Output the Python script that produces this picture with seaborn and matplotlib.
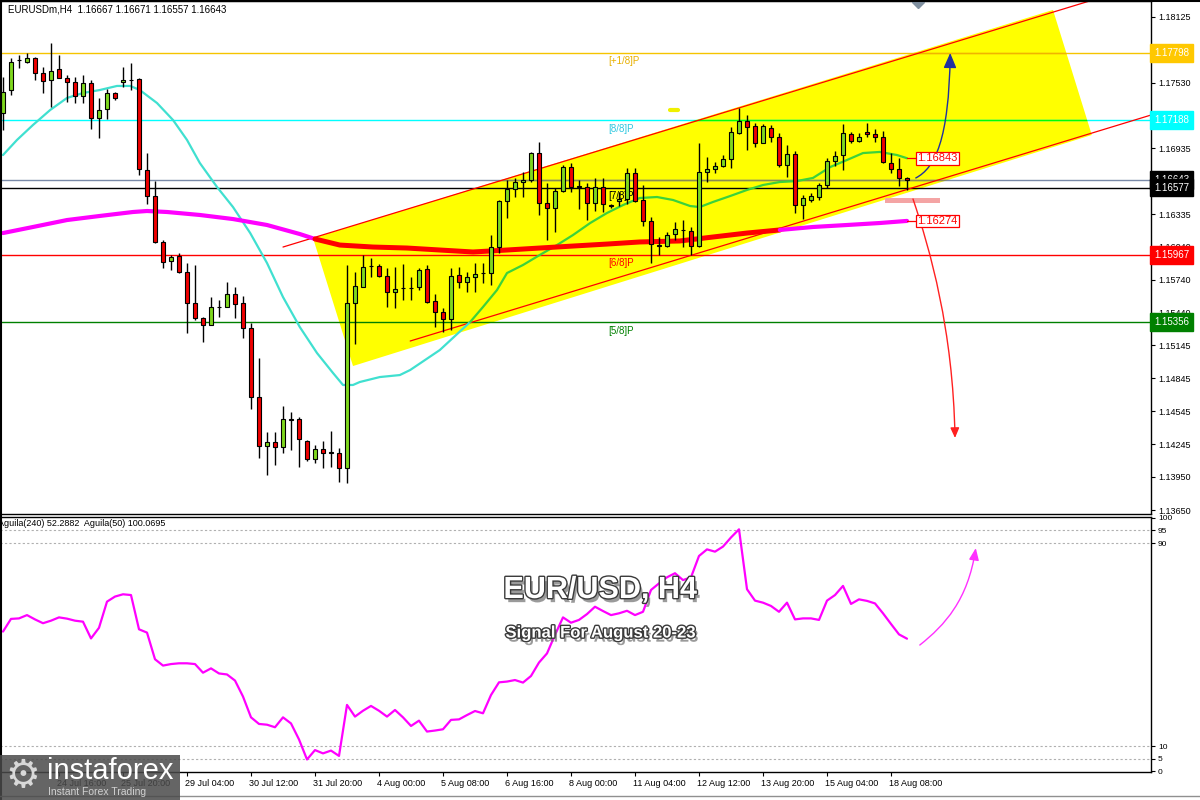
import numpy as np
import pandas as pd
import matplotlib
matplotlib.use("Agg")
import matplotlib.pyplot as plt
import matplotlib.patheffects as pe
import matplotlib.transforms as mtransforms
from matplotlib.patches import Polygon, FancyArrowPatch, Rectangle
from matplotlib.path import Path
from matplotlib.lines import Line2D
import seaborn as sns

# EURUSD H4 candles (oldest first)
opens = [
    1.17251, 1.17462, 1.17735, 1.17720, 1.17750, 1.17614, 1.17553, 1.17650, 1.17574, 1.17538,
    1.17411, 1.17523, 1.17205, 1.17287, 1.17432, 1.17532, 1.17553, 1.17559, 1.16736, 1.16503,
    1.16080, 1.15910, 1.15956, 1.15813, 1.15532, 1.15390, 1.15329, 1.15490, 1.15490, 1.15608,
    1.15526, 1.15299, 1.14673, 1.14231, 1.14264, 1.14219, 1.14473, 1.14473, 1.14279, 1.14110,
    1.14201, 1.14170, 1.14170, 1.14028, 1.15526, 1.15678, 1.15865, 1.15868, 1.15777, 1.15626,
    1.15662, 1.15662, 1.15672, 1.15835, 1.15548, 1.15445, 1.15381, 1.15783, 1.15717, 1.15768,
    1.15799, 1.15799, 1.16035, 1.16455, 1.16564, 1.16628, 1.16643, 1.16888, 1.16434, 1.16389,
    1.16546, 1.16761, 1.16585, 1.16585, 1.16434, 1.16585, 1.16413, 1.16458, 1.16474, 1.16706,
    1.16464, 1.16277, 1.16053, 1.16050, 1.16153, 1.16192, 1.16186, 1.16046, 1.16715, 1.16742,
    1.16772, 1.16833, 1.17069, 1.17184, 1.17135, 1.16984, 1.17114, 1.17032, 1.16781, 1.16878,
    1.16418, 1.16464, 1.16494, 1.16600, 1.16818, 1.16872, 1.17060, 1.17002, 1.17078, 1.17060,
    1.17032, 1.16802, 1.16742, 1.16667]
highs = [
    1.17583, 1.17750, 1.17780, 1.17795, 1.17765, 1.17674, 1.17886, 1.17780, 1.17599, 1.17583,
    1.17599, 1.17553, 1.17387, 1.17468, 1.17447, 1.17674, 1.17704, 1.17568, 1.16894, 1.16639,
    1.16101, 1.15965, 1.15980, 1.15889, 1.15874, 1.15405, 1.15586, 1.15556, 1.15717, 1.15671,
    1.15596, 1.15344, 1.15027, 1.14361, 1.14361, 1.14594, 1.14543, 1.14491, 1.14285, 1.14240,
    1.14279, 1.14367, 1.14210, 1.15874, 1.15813, 1.15965, 1.15935, 1.15883, 1.15844, 1.15859,
    1.15883, 1.15768, 1.15844, 1.15874, 1.15611, 1.15481, 1.15844, 1.15859, 1.15814, 1.15889,
    1.15889, 1.16147, 1.16464, 1.16646, 1.16661, 1.16722, 1.16903, 1.16988, 1.16616, 1.16570,
    1.16782, 1.16797, 1.16646, 1.16616, 1.16661, 1.16661, 1.16428, 1.16540, 1.16752, 1.16752,
    1.16600, 1.16307, 1.16131, 1.16177, 1.16268, 1.16283, 1.16216, 1.16978, 1.16857, 1.16812,
    1.16872, 1.17123, 1.17296, 1.17235, 1.17159, 1.17150, 1.17144, 1.17069, 1.16963, 1.16911,
    1.16509, 1.16530, 1.16615, 1.16842, 1.16911, 1.17150, 1.17084, 1.17075, 1.17159, 1.17105,
    1.17093, 1.16887, 1.16842, 1.16671]
lows = [
    1.17099, 1.17417, 1.17659, 1.17704, 1.17553, 1.17432, 1.17311, 1.17568, 1.17357, 1.17341,
    1.17341, 1.17105, 1.17024, 1.17196, 1.17372, 1.17487, 1.17462, 1.16691, 1.16428, 1.16071,
    1.15844, 1.15829, 1.15798, 1.15254, 1.15375, 1.15178, 1.15329, 1.15405, 1.15490, 1.15390,
    1.15208, 1.14564, 1.14119, 1.13968, 1.14058, 1.14170, 1.14195, 1.14043, 1.14098, 1.14074,
    1.14028, 1.14043, 1.13907, 1.13892, 1.15154, 1.15670, 1.15768, 1.15768, 1.15496, 1.15481,
    1.15557, 1.15557, 1.15647, 1.15526, 1.15315, 1.15269, 1.15284, 1.15662, 1.15632, 1.15632,
    1.15708, 1.15693, 1.15980, 1.16298, 1.16495, 1.16489, 1.16631, 1.16328, 1.16101, 1.16177,
    1.16540, 1.16540, 1.16380, 1.16283, 1.16367, 1.16358, 1.16389, 1.16410, 1.16428, 1.16449,
    1.16228, 1.15889, 1.15965, 1.16041, 1.16101, 1.16041, 1.15965, 1.16040, 1.16630, 1.16706,
    1.16760, 1.16751, 1.17063, 1.16917, 1.16948, 1.16978, 1.16993, 1.16766, 1.16675, 1.16349,
    1.16288, 1.16448, 1.16464, 1.16569, 1.16772, 1.16736, 1.16978, 1.16993, 1.17038, 1.16993,
    1.16802, 1.16712, 1.16591, 1.16557]
closes = [
    1.17447, 1.17720, 1.17738, 1.17750, 1.17614, 1.17547, 1.17638, 1.17574, 1.17538, 1.17411,
    1.17523, 1.17205, 1.17281, 1.17432, 1.17393, 1.17553, 1.17550, 1.16742, 1.16500, 1.16080,
    1.15904, 1.15950, 1.15813, 1.15532, 1.15390, 1.15329, 1.15490, 1.15496, 1.15608, 1.15520,
    1.15299, 1.14673, 1.14231, 1.14264, 1.14219, 1.14473, 1.14470, 1.14291, 1.14110, 1.14201,
    1.14164, 1.14173, 1.14028, 1.15532, 1.15683, 1.15859, 1.15868, 1.15777, 1.15626, 1.15653,
    1.15662, 1.15662, 1.15829, 1.15535, 1.15451, 1.15381, 1.15777, 1.15717, 1.15768, 1.15790,
    1.15799, 1.16035, 1.16455, 1.16564, 1.16628, 1.16643, 1.16888, 1.16434, 1.16389, 1.16546,
    1.16761, 1.16585, 1.16588, 1.16434, 1.16585, 1.16428, 1.16416, 1.16474, 1.16706, 1.16458,
    1.16277, 1.16065, 1.16050, 1.16147, 1.16198, 1.16192, 1.16050, 1.16721, 1.16742, 1.16772,
    1.16833, 1.17078, 1.17184, 1.17129, 1.16984, 1.17135, 1.17032, 1.16781, 1.16881, 1.16418,
    1.16479, 1.16500, 1.16600, 1.16818, 1.16866, 1.17069, 1.17002, 1.17038, 1.17060, 1.17032,
    1.16811, 1.16742, 1.16660, 1.16643]

# fast moving average (cyan, later green)
ma_fast_idx = [0, 1.75, 3.75, 5.9, 8, 10, 12.1, 14.25, 15.9, 17.1,
               19.25, 21.25, 23, 24.6, 26.75, 28.75, 30.9, 33, 35, 37.1,
               39.25, 41.25, 42.5, 43.75, 44.6, 47.1, 49.6, 50.9, 54.6, 58.4,
               60, 61.75, 63, 65, 67.1, 69.25, 71.25, 73.4, 75.5, 77.5,
               79.6, 81.75, 83.75, 85.9, 87.1, 88.75, 90.9, 93, 95, 97.1,
               99.25, 101.25, 103.4, 105.5, 107.5, 109.6, 111.75, 113]
ma_fast_val = [1.16872, 1.17009, 1.17145, 1.17281, 1.17390, 1.17435, 1.17462, 1.17499, 1.17499, 1.17462,
               1.17344, 1.17190, 1.17009, 1.16800, 1.16582, 1.16400, 1.16164, 1.15892, 1.15583, 1.15311,
               1.15075, 1.14894, 1.14785, 1.14785, 1.14812, 1.14857, 1.14875, 1.14921, 1.15102, 1.15357,
               1.15493, 1.15647, 1.15801, 1.15874, 1.15965, 1.16055, 1.16146, 1.16255, 1.16346, 1.16418,
               1.16482, 1.16491, 1.16464, 1.16409, 1.16400, 1.16446, 1.16500, 1.16555, 1.16600, 1.16627,
               1.16636, 1.16664, 1.16763, 1.16827, 1.16890, 1.16900, 1.16872, 1.16843]
ma_fast_switch = 29

# slow moving average (magenta, red in the middle)
ma_slow_idx = [0, 3.75, 8, 12.1, 16.25, 18, 20.5, 24.6, 28.75, 33,
               37.1, 39, 42.1, 46.25, 50.5, 54.6, 58.75, 63, 67.1, 71.25,
               75.5, 79.6, 84.6, 88.75, 93, 97.1, 101.25, 105.5, 109.6, 113]
ma_slow_val = [1.16164, 1.16219, 1.16282, 1.16319, 1.16355, 1.16364, 1.16355, 1.16328, 1.16291, 1.16237,
               1.16155, 1.16110, 1.16055, 1.16037, 1.16028, 1.16010, 1.15992, 1.16010, 1.16028, 1.16046,
               1.16064, 1.16083, 1.16092, 1.16128, 1.16164, 1.16192, 1.16219, 1.16237, 1.16255, 1.16274]
ma_slow_red = (11, 25)

# Aguila oscillator, one value per candle
osc = [55.1, 60.1, 60.3, 61.6, 59.9, 58.4, 59.4, 60.7, 60.2, 59.4,
       59.0, 52.4, 56.6, 66.9, 68.9, 69.8, 69.5, 56.0, 54.7, 44.2,
       41.7, 42.3, 42.6, 42.6, 42.3, 38.9, 40.6, 38.6, 38.2, 35.8,
       29.5, 21.3, 18.7, 18.4, 17.4, 21.3, 18.9, 12.6, 4.7, 8.4,
       7.1, 8.2, 6.1, 26.2, 21.6, 23.9, 25.8, 23.9, 21.6, 24.2,
       21.3, 17.9, 20.0, 15.7, 16.1, 16.6, 20.3, 20.5, 22.2, 23.8,
       22.9, 30.1, 35.1, 35.4, 36.0, 35.0, 37.6, 42.9, 46.5, 53.8,
       60.7, 58.6, 59.7, 62.0, 64.9, 63.2, 61.6, 62.3, 63.3, 61.6,
       62.9, 71.5, 74.1, 76.5, 78.1, 75.4, 76.5, 84.9, 87.5, 86.6,
       88.6, 92.2, 95.4, 71.8, 67.3, 66.5, 65.2, 62.9, 66.5, 59.9,
       60.3, 60.3, 59.7, 67.3, 69.5, 73.1, 66.0, 67.8, 67.2, 66.2,
       62.3, 58.1, 54.0, 52.3]
osc_guides = [95, 90, 10, 5]
osc_ticks = [100, 95, 90, 10, 5, 0]

# Murrey levels
level_price = [1.17798, 1.17188, 1.16577, 1.15967, 1.15356]
level_name = ["[+1/8]P", "[8/8]P", "[7/8]P", "[6/8]P", "[5/8]P"]
level_color = ["#f5c400", "#00ffff", "#000000", "#ff0000", "#008000"]
level_color_in = ["#f0b400", "#00ff00", "#000000", "#ff0000", "#008000"]
level_text_color = ["#e8b000", "#30c8e0", "#000000", "#ff0000", "#008000"]
level_label_idx = 75.6
last_price = 1.16643

# right axis
axis_ticks = [1.18125, 1.17830, 1.17530, 1.17230, 1.16935, 1.16640, 1.16335, 1.16040,
              1.15740, 1.15440, 1.15145, 1.14845, 1.14545, 1.14245, 1.13950, 1.13650]
box_price = [1.17798, 1.17188, 1.16643, 1.16577, 1.15967, 1.15356]
box_color = ["#ffc800", "#00ffff", "#000000", "#000000", "#ff0000", "#008000"]

# dates on the time axis
date_idx = [7, 15, 23, 31, 39, 47, 55, 63, 71, 79, 87, 95, 103, 111]
date_lbl = ["24 Jul 16:00", "25 Jul 20:00", "29 Jul 04:00", "30 Jul 12:00", "31 Jul 20:00",
            "4 Aug 00:00", "5 Aug 08:00", "6 Aug 16:00", "8 Aug 00:00", "11 Aug 04:00",
            "12 Aug 12:00", "13 Aug 20:00", "15 Aug 04:00", "18 Aug 08:00"]

# drawn objects (candle index, price)
chan_idx = [38.75, 131.25, 136.1, 43.75]
chan_price = [1.16119, 1.18189, 1.17054, 1.14957]
upper_idx, upper_price = [35.0, 136.0], [1.16037, 1.18274]
lower_idx, lower_price = [50.9, 143.5], [1.15184, 1.17235]
blue_idx = [114.1, 116.5, 118.25, 118.4]
blue_price = [1.16664, 1.16754, 1.17009, 1.17798]
red_idx = [113.75, 115.9, 118.75, 119.0]
red_price = [1.16473, 1.16010, 1.15284, 1.14304]
pink_idx = [114.6, 117.75, 120.6, 121.6]
pink_val = [49.8, 57.7, 67.5, 88.0]
zone_idx, zone_price = (110.25, 117.1), (1.16437, 1.16482)

BULL, BEAR = "#7fd81e", "#f00000"

sns.set_style("white")
plt.rcParams["font.family"] = ["Liberation Sans", "DejaVu Sans"]

W, H = 1200, 800
fig = plt.figure(figsize=(W / 100, H / 100), dpi=100)
fig.patch.set_facecolor("white")


def fx(px):
    return px / W


def fy(py):
    return 1 - py / H


ax = fig.add_axes([0, fy(514), fx(1151), 513 / H])
ax2 = fig.add_axes([0, fy(772), fx(1151), 255 / H])

# --- main panel ---
chan = Polygon(np.column_stack([chan_idx, chan_price]), closed=True, fc="#ffff00", ec="none", zorder=1)
ax.add_patch(chan)

for price, col, col_in in zip(level_price, level_color, level_color_in):
    ax.axhline(price, color=col, lw=1, zorder=2)
    if col_in != col:
        ln = ax.axhline(price, color=col_in, lw=1, zorder=2.1)
        ln.set_clip_path(chan)
ax.axhline(last_price, color="#7a8aa8", lw=1, zorder=2)
ln = ax.axhline(last_price, color="#8c8c50", lw=1, zorder=2.1)
ln.set_clip_path(chan)

for price, name, col in zip(level_price, level_name, level_text_color):
    ax.annotate(name, (level_label_idx, price), xytext=(0, -2.5), textcoords="offset points",
                ha="left", va="top", fontsize=7, color=col, zorder=2.2)

ax.plot(upper_idx, upper_price, color="#ff0000", lw=0.9, zorder=2.5)
ax.plot(lower_idx, lower_price, color="#ff0000", lw=0.9, zorder=2.5)

sw = ma_fast_switch
sns.lineplot(x=ma_fast_idx[:sw + 1], y=ma_fast_val[:sw + 1], ax=ax, color="#40e0d0", lw=1.6, zorder=3)
sns.lineplot(x=ma_fast_idx[sw:], y=ma_fast_val[sw:], ax=ax, color="#3cd23c", lw=1.6, zorder=3)
r0, r1 = ma_slow_red
sns.lineplot(x=ma_slow_idx[:r0 + 1], y=ma_slow_val[:r0 + 1], ax=ax, color="#ff00ff", lw=3, zorder=3)
sns.lineplot(x=ma_slow_idx[r0:r1 + 1], y=ma_slow_val[r0:r1 + 1], ax=ax, color="#ff0000", lw=3.6, zorder=3)
sns.lineplot(x=ma_slow_idx[r1:], y=ma_slow_val[r1:], ax=ax, color="#ff00ff", lw=3, zorder=3)

candles = pd.DataFrame({"open": opens, "high": highs, "low": lows, "close": closes})
candles["idx"] = np.arange(len(candles))
bull = candles["close"] >= candles["open"]
body_lo = candles[["open", "close"]].min(axis=1)
body_h = (candles["close"] - candles["open"]).abs().clip(lower=0.00002)
ax.vlines(candles["idx"], candles["low"], candles["high"], color="black", lw=1, zorder=4)
ax.bar(candles["idx"], body_h, bottom=body_lo, width=0.62, color=np.where(bull, BULL, BEAR),
       edgecolor="black", linewidth=0.8, zorder=5)

ax.add_patch(Rectangle((zone_idx[0], zone_price[0]), zone_idx[1] - zone_idx[0],
                       zone_price[1] - zone_price[0], fc="#f4a4a4", ec="none", zorder=2.7))

curve = [Path.MOVETO, Path.CURVE4, Path.CURVE4, Path.CURVE4]
ax.add_patch(FancyArrowPatch(path=Path(np.column_stack([red_idx, red_price]), curve),
                             arrowstyle="-|>,head_length=0.5,head_width=0.22", mutation_scale=12,
                             color="#ff2020", lw=1, zorder=6))
ax.add_patch(FancyArrowPatch(path=Path(np.column_stack([blue_idx, blue_price]), curve),
                             arrowstyle="-|>,head_length=0.7,head_width=0.3", mutation_scale=13,
                             color="#2030a0", lw=1, zorder=6))

for val in (ma_fast_val[-1], ma_slow_val[-1]):
    ax.plot([ma_fast_idx[-1], 114.25], [val, val], color="#ff0000", lw=0.9, zorder=6)
    ax.text(114.25, val, f"{val:.5f}", ha="left", va="center", fontsize=8, color="#ff0000", zorder=7,
            bbox=dict(boxstyle="square,pad=0.12", fc="white", ec="#ff0000", lw=0.9))

ax.plot([83.4, 84.4], [1.17281, 1.17281], color="#f0f000", lw=3, zorder=2)
ax.plot([114.4], [1.18262], marker="D", ms=6, color="#8090a0", zorder=6)

ax.set_xlim(-0.375, 143.5)
ax.set_ylim(1.13614, 1.18270)
ax.set_xlabel("")
ax.set_ylabel("")
ax.set_xticks([])
ax.yaxis.tick_right()
ax.set_yticks(axis_ticks)
ax.set_yticklabels([f"{t:.5f}" for t in axis_ticks])
ax.tick_params(axis="y", right=True, left=False, direction="out", length=3, width=0.8,
               pad=2, labelsize=6.5, colors="black")

blend = mtransforms.blended_transform_factory(ax.transAxes, ax.transData)
for price, col in zip(box_price, box_color):
    ax.text(1.0025, price, f"{price:.5f}", transform=blend, ha="left", va="center", fontsize=7,
            color="white", clip_on=False, zorder=10,
            bbox=dict(boxstyle="square,pad=0.4", fc=col, ec=col))

# --- oscillator panel ---
sns.lineplot(x=candles["idx"], y=osc, ax=ax2, color="#ff00ff", lw=1.6, zorder=3)
for v in osc_guides:
    ax2.axhline(v, color="#b0b0b0", lw=0.8, ls=(0, (2, 2)), zorder=1)
ax2.add_patch(FancyArrowPatch(path=Path(np.column_stack([pink_idx, pink_val]), curve),
                              arrowstyle="-|>,head_length=0.6,head_width=0.25", mutation_scale=12,
                              color="#ff30ff", lw=1, zorder=6))
ax2.set_xlim(-0.375, 143.5)
ax2.set_ylim(-0.24, 100.26)
ax2.set_xlabel("")
ax2.set_ylabel("")
ax2.yaxis.tick_right()
ax2.set_yticks(osc_ticks)
ax2.set_yticklabels([str(t) for t in osc_ticks])
ax2.tick_params(axis="y", right=True, left=False, direction="out", length=3, width=0.8,
                pad=2, labelsize=6, colors="black")
ax2.set_xticks(date_idx)
ax2.set_xticklabels(date_lbl, ha="left")
ax2.tick_params(axis="x", bottom=True, direction="out", length=3, width=0.8, pad=2,
                labelsize=6.5, colors="black")
shift = mtransforms.ScaledTranslation(-2 / 100, 0, fig.dpi_scale_trans)
for lab in ax2.get_xticklabels():
    lab.set_transform(lab.get_transform() + shift)
ax2.text(-0.002, (772 - 524) / 255, "Aguila(240) 52.2882  Aguila(50) 100.0695", transform=ax2.transAxes,
         ha="left", va="center", fontsize=6.5, color="black")

for a in (ax, ax2):
    for s in a.spines.values():
        s.set_visible(True)
        s.set_color("black")
        s.set_linewidth(1)

# titles
fx_title = [pe.SimplePatchShadow(offset=(2, -3), shadow_rgbFace="#707070", alpha=0.7),
            pe.Stroke(linewidth=2, foreground="#3a3a3a"), pe.Normal()]
fig.text(0.5, fy(590), "EUR/USD, H4", ha="center", va="center", fontsize=22, fontweight="bold",
         color="white", path_effects=fx_title, zorder=8)
fig.text(0.5, fy(633), "Signal For August 20-23", ha="center", va="center", fontsize=12,
         fontweight="bold", color="white", path_effects=fx_title, zorder=8)

fig.text(fx(8), fy(9), "EURUSDm,H4  1.16667 1.16671 1.16557 1.16643", ha="left", va="center",
         fontsize=7, color="black")

# logo
fig.add_artist(Rectangle((0, 0), fx(180), 45 / H, transform=fig.transFigure, fc="#4a4a4a",
                         ec="none", alpha=0.85, zorder=9))
fig.text(fx(23), fy(776), "\u2699", ha="center", va="center", fontsize=28, color="#d8d8d8",
         family=["DejaVu Sans"], zorder=10)
fig.text(fx(47), fy(771), "instaforex", ha="left", va="center", fontsize=21, color="white", zorder=10)
fig.text(fx(48), fy(792), "Instant Forex Trading", ha="left", va="center", fontsize=7.5,
         color="#d0d0d0", zorder=10)

# window frame
fig.add_artist(Line2D([0, 1], [fy(0.8), fy(0.8)], transform=fig.transFigure, color="black", lw=1.5))
fig.add_artist(Line2D([fx(0.8), fx(0.8)], [0, 1], transform=fig.transFigure, color="black", lw=1.5))
fig.add_artist(Line2D([0, 1], [fy(796), fy(796)], transform=fig.transFigure, color="#909090", lw=1))

fig.savefig("out.png", dpi=100)
